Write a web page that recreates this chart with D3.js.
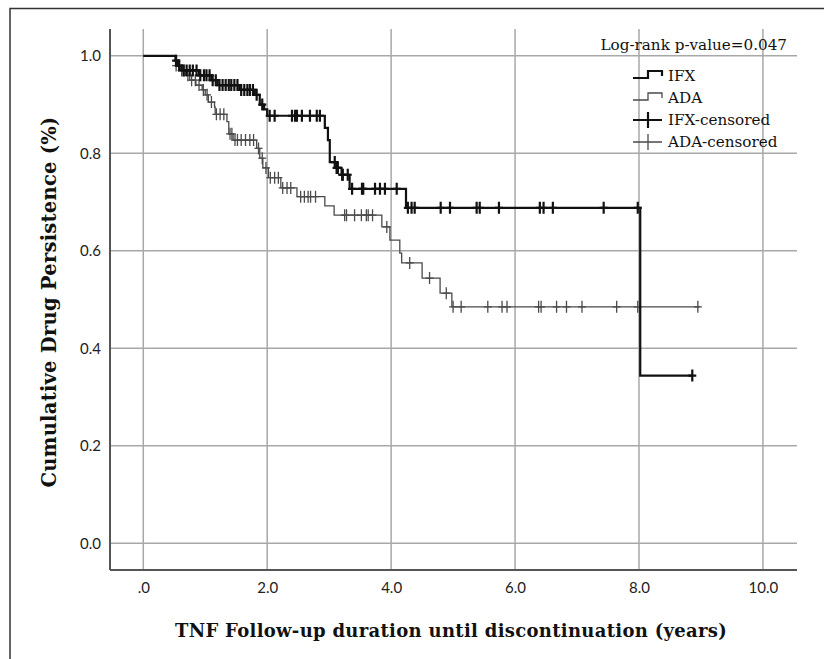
<!DOCTYPE html>
<html>
<head>
<meta charset="utf-8">
<script src="https://cdnjs.cloudflare.com/ajax/libs/d3/7.8.5/d3.min.js"></script>
<style>
  body { margin: 0; background: #fff; }
  .tick-label { font-family: Lato, "Open Sans", sans-serif; font-size: 15px; fill: #222; }
  .serif { font-family: "DejaVu Serif", serif; fill: #111; }
</style>
</head>
<body>
<script>
// Kaplan-Meier drug persistence, IFX vs ADA

// IFX steps: time of event (years) and survival after it
var ifxTimes = [0, 0.52, 0.56, 0.62, 0.90, 1.10, 1.20, 1.55, 1.80, 1.88, 1.95, 2.00, 2.93, 2.98, 3.01, 3.12, 3.20, 3.33, 4.24, 8.02, 8.86]
var ifxSurv  = [1.0, 0.99, 0.98, 0.97, 0.96, 0.95, 0.94, 0.93, 0.92, 0.90, 0.89, 0.877, 0.852, 0.827, 0.782, 0.770, 0.756, 0.727, 0.688, 0.344, 0.344]
var ifxCensored = [0.53, 0.58, 0.65, 0.70, 0.75, 0.80, 0.86, 0.92, 0.98, 1.02, 1.07, 1.12, 1.17, 1.23, 1.28,
                   1.33, 1.38, 1.42, 1.47, 1.52, 1.58, 1.63, 1.68, 1.72, 1.77, 1.83, 1.92,
                   2.04, 2.12, 2.40, 2.45, 2.48, 2.56, 2.69, 2.80, 2.85,
                   3.09, 3.12, 3.14, 3.21, 3.22, 3.30,
                   3.37, 3.53, 3.55, 3.74, 3.82, 3.90, 4.09,
                   4.27, 4.33, 4.38, 4.80, 4.95, 5.38, 5.43, 5.74, 6.40, 6.46, 6.61, 7.43, 7.98, 8.86]

// ADA steps
var adaTimes = [0, 0.52, 0.60, 0.68, 0.75, 0.85, 0.95, 1.00, 1.05, 1.15, 1.16, 1.35, 1.38, 1.45, 1.83, 1.88, 1.93, 2.02, 2.22, 2.48,
                2.93, 3.08, 3.85, 3.98, 4.14, 4.17, 4.50, 4.79, 4.98, 8.98]
var adaSurv  = [1.0, 0.98, 0.97, 0.96, 0.95, 0.94, 0.93, 0.92, 0.905, 0.895, 0.88, 0.865, 0.84, 0.827, 0.81, 0.79, 0.77, 0.75, 0.729, 0.711,
                0.692, 0.673, 0.649, 0.622, 0.595, 0.575, 0.544, 0.513, 0.485, 0.485]
var adaCensored = [0.53, 0.57, 0.62, 0.66, 0.72, 0.78, 0.84, 0.90, 0.97, 1.03, 1.10, 1.18, 1.24, 1.30, 1.40, 1.43,
                   1.48, 1.52, 1.58, 1.65, 1.72, 1.78, 1.86, 1.92, 1.98, 2.05, 2.12, 2.18,
                   2.25, 2.32, 2.38, 2.54, 2.60, 2.66, 2.70, 2.78,
                   3.25, 3.28, 3.41, 3.52, 3.60, 3.63, 3.70,
                   3.93, 4.30, 4.62, 4.89,
                   5.00, 5.13, 5.56, 5.79, 5.87, 6.38, 6.42, 6.67, 6.83, 7.08, 7.64, 7.98, 8.95]

var xTicks = [0, 2, 4, 6, 8, 10]
var xTickLabels = [".0", "2.0", "4.0", "6.0", "8.0", "10.0"]
var yTicks = [0, 0.2, 0.4, 0.6, 0.8, 1.0]
var yTickLabels = ["0.0", "0.2", "0.4", "0.6", "0.8", "1.0"]
var legendLabels = ["IFX", "ADA", "IFX-censored", "ADA-censored"]

var W = 824, H = 659
var margin = {top: 29, right: 27, bottom: 89, left: 110},
    width = W - margin.left - margin.right,
    height = H - margin.top - margin.bottom

var x = d3.scaleLinear()
    .domain([-0.537, 10.55])
    .range([0, width])

var y = d3.scaleLinear()
    .domain([-0.055, 1.055])
    .range([height, 0])

var root = d3.select("body").append("svg")
    .attr("width", W)
    .attr("height", H)

// outer frame (only left and top visible)
root.append("path")
    .attr("d", "M10," + H + "V8.5H" + W)
    .attr("fill", "none")
    .attr("stroke", "#333")
    .attr("stroke-width", 1.5)

var svg = root.append("g")
    .attr("transform", "translate(" + margin.left + "," + margin.top + ")")

// grid
svg.selectAll(".hgrid")
    .data(yTicks)
  .enter().append("line")
    .attr("x1", 0).attr("x2", width)
    .attr("y1", function(d) { return y(d) })
    .attr("y2", function(d) { return y(d) })
    .attr("stroke", "#a8a8a8")
    .attr("stroke-width", 1.5)

svg.selectAll(".vgrid")
    .data(xTicks)
  .enter().append("line")
    .attr("y1", 0).attr("y2", height)
    .attr("x1", function(d) { return x(d) })
    .attr("x2", function(d) { return x(d) })
    .attr("stroke", "#a8a8a8")
    .attr("stroke-width", 1.5)

// axes
svg.append("g")
    .attr("transform", "translate(0," + height + ")")
    .call(d3.axisBottom(x)
            .tickValues(xTicks)
            .tickSize(0)
            .tickPadding(12)
            .tickFormat(function(d, i) { return xTickLabels[i] }))
    .call(function(g) {
        g.select(".domain").attr("stroke", "#555").attr("stroke-width", 2).attr("d", "M0,0H" + width)
        g.selectAll("text").attr("class", "tick-label").attr("font-family", null).attr("font-size", null)
    })

svg.append("g")
    .call(d3.axisLeft(y)
            .tickValues(yTicks)
            .tickSize(0)
            .tickPadding(9)
            .tickFormat(function(d, i) { return yTickLabels[i] }))
    .call(function(g) {
        g.select(".domain").attr("stroke", "#555").attr("stroke-width", 2).attr("d", "M0,0V" + height)
        g.selectAll("text").attr("class", "tick-label").attr("font-family", null).attr("font-size", null)
    })

// survival curves
var line = d3.line()
    .x(function(d) { return x(d[0]) })
    .y(function(d) { return y(d[1]) })
    .curve(d3.curveStepAfter)

function stepAt(times, surv, t) {
    var v = surv[0]
    for (var i = 0; i < times.length; i++) { if (times[i] <= t) v = surv[i] }
    return v
}

var series = [
    {times: ifxTimes, surv: ifxSurv, cens: ifxCensored, color: "#111", width: 2.2},
    {times: adaTimes, surv: adaSurv, cens: adaCensored, color: "#4a4a4a", width: 1.3}
]

// draw ADA first so IFX sits on top
series.slice().reverse().forEach(function(s) {
    var pts = s.times.map(function(t, i) { return [t, s.surv[i]] })
    svg.append("path")
        .datum(pts)
        .attr("fill", "none")
        .attr("stroke", s.color)
        .attr("stroke-width", s.width)
        .attr("d", line)

    svg.append("g").selectAll("path")
        .data(s.cens)
      .enter().append("path")
        .attr("transform", function(t) { return "translate(" + x(t) + "," + y(stepAt(s.times, s.surv, t)) + ")" })
        .attr("d", "M-4,0H4M0,-6V6")
        .attr("fill", "none")
        .attr("stroke", s.color)
        .attr("stroke-width", s.width)
})

// log-rank note
root.append("text")
    .attr("class", "serif")
    .attr("x", 787)
    .attr("y", 50)
    .attr("text-anchor", "end")
    .style("font-size", "15.2px")
    .text("Log-rank p-value=0.047")

// legend
var legendY = [76, 98, 120, 142]
var lg = root.append("g")
legendLabels.forEach(function(lbl, i) {
    var cy = legendY[i]
    var s = series[i % 2]
    var d = i < 2
        ? "M633," + (cy + 2) + "H648V" + (cy - 5) + "H662V" + (cy)
        : "M633," + cy + "H662M648," + (cy - 8) + "V" + (cy + 8)
    lg.append("path")
        .attr("d", d)
        .attr("fill", "none")
        .attr("stroke", s.color)
        .attr("stroke-width", s.width)
    lg.append("text")
        .attr("class", "serif")
        .attr("x", 668)
        .attr("y", cy + 5)
        .style("font-size", "15.2px")
        .text(lbl)
})

// axis titles
root.append("text")
    .attr("class", "serif")
    .attr("x", 451)
    .attr("y", 637)
    .attr("text-anchor", "middle")
    .style("font-size", "18px")
    .style("letter-spacing", "0.3px")
    .style("font-weight", "bold")
    .text("TNF Follow-up duration until discontinuation (years)")

root.append("text")
    .attr("class", "serif")
    .attr("transform", "translate(56,302) rotate(-90)")
    .attr("text-anchor", "middle")
    .style("font-size", "19.5px")
    .style("letter-spacing", "0.25px")
    .style("font-weight", "bold")
    .text("Cumulative Drug Persistence (%)")
</script>
</body>
</html>
